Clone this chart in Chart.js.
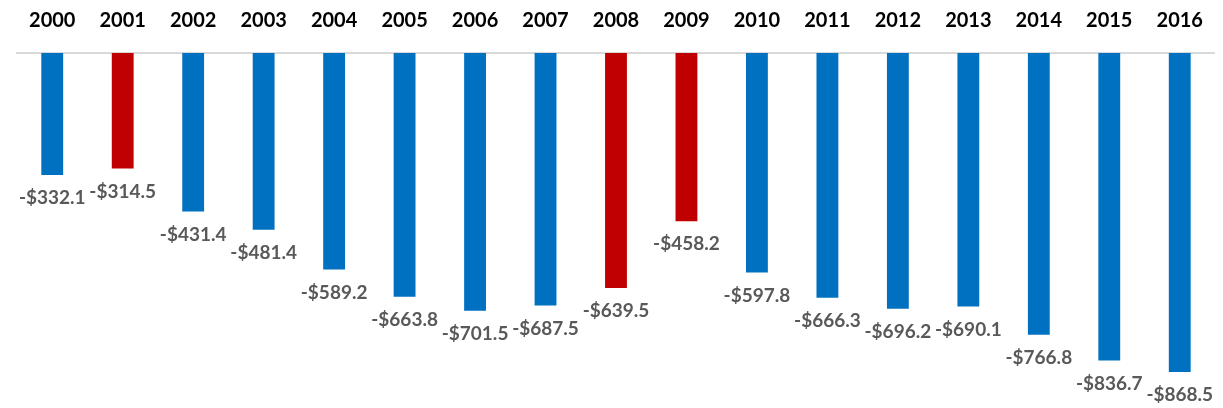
<!DOCTYPE html>
<html>
<head>
<meta charset="utf-8">
<script src="https://cdn.jsdelivr.net/npm/chart.js@4"></script>
<style>
  html, body { margin: 0; padding: 0; background: #fff; }
  #wrap { width: 1223px; height: 408px; position: relative; }
</style>
</head>
<body>
<div id="wrap"><canvas id="chart"></canvas></div>
<script>
const years = ["2000", "2001", "2002", "2003", "2004", "2005", "2006", "2007", "2008",
  "2009", "2010", "2011", "2012", "2013", "2014", "2015", "2016"];
const balances = [-332.1, -314.5, -431.4, -481.4, -589.2, -663.8, -701.5, -687.5, -639.5,
  -458.2, -597.8, -666.3, -696.2, -690.1, -766.8, -836.7, -868.5];
const highlightYears = ["2001", "2008", "2009"];

const BLUE = "#0070C0";
const RED = "#C00000";

// value labels under each bar
const valueLabels = {
  id: "valueLabels",
  afterDatasetsDraw(chart) {
    const ctx = chart.ctx;
    const meta = chart.getDatasetMeta(0);
    ctx.save();
    ctx.font = "bold 19px Lato";
    ctx.fillStyle = "#595959";
    ctx.textAlign = "center";
    ctx.textBaseline = "middle";
    meta.data.forEach(function (bar, i) {
      const txt = "-$" + Math.abs(balances[i]).toFixed(1);
      ctx.fillText(txt, bar.x, bar.y + 23);
    });
    ctx.restore();
  }
};

const ctx = document.getElementById("chart").getContext("2d");
new Chart(ctx, {
  type: "bar",
  data: {
    labels: years,
    datasets: [{
      data: balances,
      backgroundColor: years.map(y => highlightYears.includes(y) ? RED : BLUE),
      barPercentage: 0.31,
      categoryPercentage: 1.0
    }]
  },
  options: {
    responsive: true,
    maintainAspectRatio: false,
    animation: false,
    layout: { padding: { left: 17, right: 2, top: 0, bottom: 6 } },
    plugins: {
      legend: { display: false },
      tooltip: { enabled: false }
    },
    scales: {
      x: {
        position: "top",
        grid: { display: false, drawTicks: false },
        border: { display: true, color: "#d9d9d9", width: 2 },
        ticks: {
          color: "#000",
          font: { family: "Lato", size: 20, weight: "bold" },
          padding: 20
        },
        afterFit: function (scale) { scale.height = 53; }
      },
      y: {
        display: false,
        min: -950,
        max: 0
      }
    }
  },
  plugins: [valueLabels]
});
</script>
</body>
</html>
